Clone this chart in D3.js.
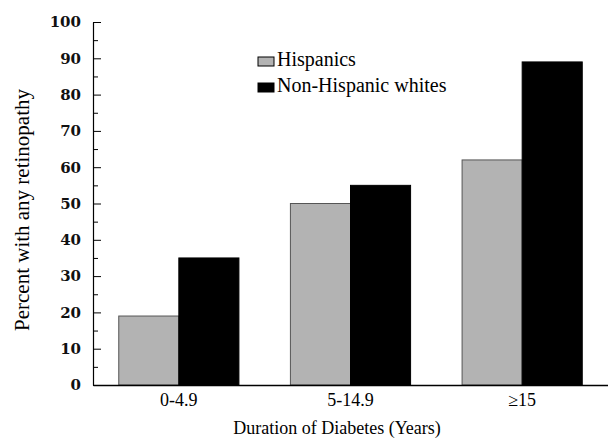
<!DOCTYPE html>
<html>
<head>
<meta charset="utf-8">
<script src="https://cdn.jsdelivr.net/npm/d3@7"></script>
<style>
  body { margin: 0; background: #fff; }
  svg { display: block; font-family: "Liberation Serif", "DejaVu Serif", serif; }
</style>
</head>
<body>
<div id="chart"></div>
<script>
const categories = ['0-4.9', '5-14.9', '\u226515'];
const seriesNames = ['Hispanics', 'Non-Hispanic whites'];
const hispanics = [19, 50, 62];
const nonHispanicWhites = [35, 55, 89];
const yTicks = [0, 10, 20, 30, 40, 50, 60, 70, 80, 90, 100];

const width = 608, height = 438;
const margin = {top: 22, right: 0, bottom: 53, left: 93};
const innerW = width - margin.left - margin.right;
const innerH = height - margin.top - margin.bottom;

const svg = d3.select('#chart').append('svg')
  .attr('width', width)
  .attr('height', height);

const g = svg.append('g')
  .attr('transform', `translate(${margin.left}, ${margin.top})`);

const x = d3.scaleBand().domain(categories).range([0, innerW]).paddingInner(0.3).paddingOuter(0.15);
const xSub = d3.scaleBand().domain(seriesNames).range([0, x.bandwidth()]);
const y = d3.scaleLinear().domain([0, 100]).range([innerH, 0]);
const colours = {'Hispanics': '#b3b3b3', 'Non-Hispanic whites': '#000'};
const strokes = {'Hispanics': '#555', 'Non-Hispanic whites': '#000'};

const rows = categories.map((c, i) => ({cat: c, values: [
  {name: seriesNames[0], value: hispanics[i]},
  {name: seriesNames[1], value: nonHispanicWhites[i]}
]}));

// bars
g.selectAll('g.group')
  .data(rows)
  .enter().append('g')
  .attr('class', 'group')
  .attr('transform', (d) => `translate(${x(d.cat)}, 0)`)
  .selectAll('rect')
  .data((d) => d.values)
  .enter().append('rect')
  .attr('x', (d) => xSub(d.name))
  .attr('y', (d) => y(d.value))
  .attr('width', xSub.bandwidth())
  .attr('height', (d) => innerH - y(d.value))
  .attr('fill', (d) => colours[d.name])
  .attr('stroke', (d) => strokes[d.name])
  .attr('stroke-width', 1);

// y axis, ticks pointing inside
const minorTicks = d3.range(5, 100, 10);
g.append('g')
  .call(d3.axisRight(y).tickValues(minorTicks).tickSize(5).tickFormat(''))
  .call((a) => a.select('.domain').remove())
  .selectAll('line').attr('stroke', '#000');

const yAxis = g.append('g')
  .call(d3.axisRight(y).tickValues(yTicks).tickSize(8).tickSizeOuter(0));
yAxis.select('.domain').attr('stroke', '#000').attr('stroke-width', 1.2);
yAxis.selectAll('line').attr('stroke', '#000');
yAxis.selectAll('text')
  .attr('x', -12)
  .attr('text-anchor', 'end')
  .attr('font-weight', 'bold')
  .attr('fill', '#111')
  .attr('font-family', '"DejaVu Serif", serif')
  .style('font-size', '15px');

// x axis
const xAxis = g.append('g')
  .attr('transform', `translate(0, ${innerH})`)
  .call(d3.axisBottom(x).tickSize(0).tickSizeOuter(0));
xAxis.select('.domain').attr('stroke', '#000').attr('stroke-width', 1.5);
xAxis.selectAll('text')
  .attr('dy', 0)
  .attr('y', 21)
  .attr('fill', '#000')
  .attr('font-family', '"Liberation Serif", serif')
  .style('font-size', '18px');

// axis titles
svg.append('text')
  .attr('x', 337)
  .attr('y', 434)
  .attr('text-anchor', 'middle')
  .attr('font-size', 18)
  .text('Duration of Diabetes (Years)');

svg.append('text')
  .attr('transform', 'translate(29, 210) rotate(-90)')
  .attr('text-anchor', 'middle')
  .attr('font-size', 21)
  .text('Percent with any retinopathy');

// legend
const legend = svg.append('g').attr('transform', 'translate(258, 57)');
seriesNames.forEach((name, i) => {
  const row = legend.append('g').attr('transform', `translate(0, ${i * 26})`);
  row.append('rect')
    .attr('width', 16).attr('height', 9)
    .attr('fill', colours[name])
    .attr('stroke', '#000').attr('stroke-width', 1);
  row.append('text')
    .attr('x', 19).attr('y', 9)
    .attr('font-size', 20)
    .text(name);
});
</script>
</body>
</html>
